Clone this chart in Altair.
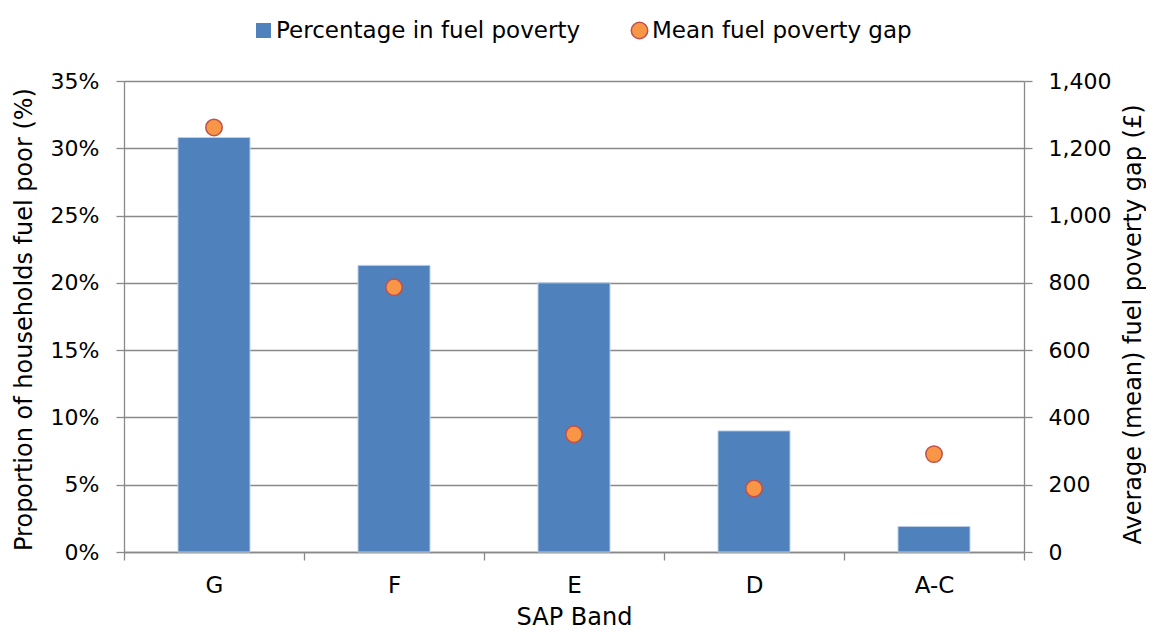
import altair as alt
import pandas as pd

bands = ["G", "F", "E", "D", "A-C"]
pct_fuel_poor = [0.308, 0.213, 0.200, 0.090, 0.019]
mean_gap = [1262, 787, 350, 189, 291]
series_bar = "Percentage in fuel poverty"
series_point = "Mean fuel poverty gap"
left_ticks = [0, 0.05, 0.10, 0.15, 0.20, 0.25, 0.30, 0.35]
right_ticks = [0, 200, 400, 600, 800, 1000, 1200, 1400]

df = pd.DataFrame({
    "band": bands,
    "pct": pct_fuel_poor,
    "gap": mean_gap,
    "s1": [series_bar] * len(bands),
    "s2": [series_point] * len(bands),
})

FONT = "DejaVu Sans"
GRAY = "#898989"

x_enc = alt.X(
    "band:N", sort=bands,
    scale=alt.Scale(paddingInner=0, paddingOuter=0),
    axis=alt.Axis(
        title="SAP Band", labelAngle=0, tickBand="extent", tickSize=8,
        labelPadding=14, labelFontSize=23, titleFontSize=24,
        titleBaseline="alphabetic", titleY=72,
        domainColor=GRAY, tickColor=GRAY, domainWidth=1.3, tickWidth=1.3,
    ),
)

bars = alt.Chart(df).mark_bar(
    width=alt.RelativeBandSize(0.4), stroke="#BCCFE6", strokeWidth=1
).encode(
    x=x_enc,
    y=alt.Y(
        "pct:Q",
        scale=alt.Scale(domain=[0, 0.35], nice=False),
        axis=alt.Axis(
            orient="left", values=left_ticks, format=".0%", grid=True,
            gridColor=GRAY, gridWidth=1.3, tickSize=8, labelPadding=17,
            labelFontSize=22, domainColor=GRAY, tickColor=GRAY,
            domainWidth=1.3, tickWidth=1.3,
            title="Proportion of households fuel poor (%)", titleFontSize=24,
            titleAngle=270, titleX=-100, titleY=238, titleAlign="center",
            titleBaseline="middle",
        ),
    ),
    color=alt.Color(
        "s1:N", scale=alt.Scale(range=["#4F81BD"]),
        legend=alt.Legend(
            orient="none", legendX=128, legendY=-62, title=None,
            symbolType="square", symbolSize=225, symbolStrokeWidth=0,
            labelFontSize=23, labelOffset=1, padding=0, labelLimit=600,
        ),
    ),
)

points = alt.Chart(df).mark_point(
    filled=True, size=270, stroke="#C0504D", strokeWidth=1.5, opacity=1
).encode(
    x=alt.X("band:N", sort=bands),
    y=alt.Y(
        "gap:Q",
        scale=alt.Scale(domain=[0, 1400], nice=False),
        axis=alt.Axis(
            orient="right", values=right_ticks, format=",d", grid=False,
            tickSize=8, labelPadding=16, labelFontSize=22,
            domainColor=GRAY, tickColor=GRAY, domainWidth=1.3, tickWidth=1.3,
            title="Average (mean) fuel poverty gap (£)", titleFontSize=24,
            titleAngle=270, titleX=109, titleY=243, titleAlign="center",
            titleBaseline="middle",
        ),
    ),
    fill=alt.Fill(
        "s2:N", scale=alt.Scale(range=["#F79646"]),
        legend=alt.Legend(
            orient="none", legendX=504, legendY=-62, title=None,
            symbolType="circle", symbolSize=270, symbolStrokeColor="#C0504D",
            symbolStrokeWidth=1.5, labelFontSize=23, labelOffset=1, padding=0,
            labelLimit=600,
        ),
    ),
)

chart = (
    alt.layer(bars, points)
    .resolve_scale(y="independent", color="independent", fill="independent")
    .properties(
        width=900, height=471,
        padding={"left": 116, "top": 73, "right": 122, "bottom": 78},
        autosize=alt.AutoSizeParams(type="none"),
    )
    .configure(font=FONT)
    .configure_axis(labelColor="#000000", titleColor="#000000", titleFontWeight="normal", labelFont=FONT, titleFont=FONT)
    .configure_legend(labelColor="#000000", labelFont=FONT)
    .configure_view(stroke=None)
)

chart.save("out.html", embed_options={"renderer": "svg", "actions": False})
